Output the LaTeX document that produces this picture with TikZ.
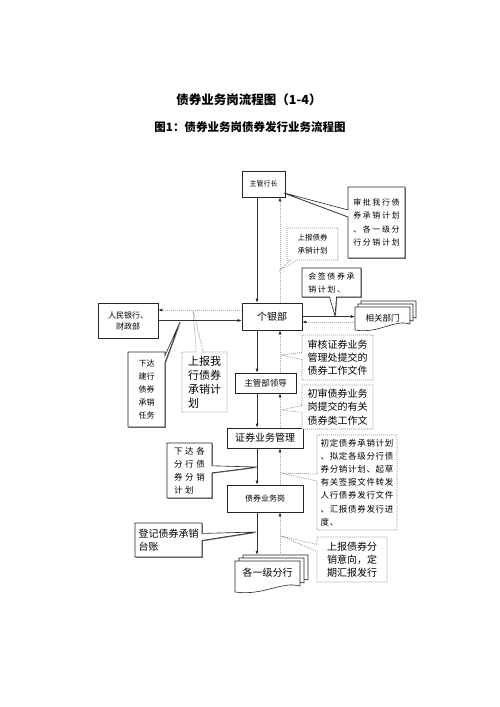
\documentclass[tikz,border=0pt]{standalone}
\usepackage{fontspec}
\setmainfont{Noto Sans CJK SC}
\newfontfamily\lsA{Noto Sans CJK SC}[LetterSpace=20]
\newfontfamily\lsB{Noto Sans CJK SC}[LetterSpace=30]
\newfontfamily\lsC{Noto Sans CJK SC}[LetterSpace=8]
\usetikzlibrary{arrows.meta,shapes.callouts,shadows}
\newcommand\fs[2]{\fontsize{#1}{#2}\selectfont}
\newcommand\onedoc[4]{%
  \path[draw=black!85,fill=white,line width=0.6pt] (#1,#2) -- (#3,#2) -- (#3,{#4-6})
    .. controls ({#3-(#3-#1)*0.3},{#4-11}) and ({#1+(#3-#1)*0.45},{#4+4}) .. (#1,#4) -- cycle;}
\begin{document}
\begin{tikzpicture}[x=1pt,y=-1pt,
  shd/.style={drop shadow={shadow xshift=0.8pt,shadow yshift=-0.8pt,fill=black!55,opacity=1}},
  boxn/.style={draw=black!85,fill=white,line width=0.6pt,inner sep=1pt,align=center,shd},
  co/.style={rectangle callout,fill=white,align=left,inner sep=2pt,callout pointer width=7pt},
  cosol/.style={co,draw=black!85,line width=0.6pt,shd},
  codot/.style={co,draw=black!45,line width=0.6pt,dash pattern=on 1pt off 1pt},
  sol/.style={draw=black!80,line width=0.7pt},
  dotl/.style={draw=black!35,line width=0.6pt,dash pattern=on 1pt off 1pt},
  tip/.style={-{Latex[length=4pt,width=3pt,color=black!85]}}
]
\useasboundingbox[fill=white] (0,0) rectangle (500,707);

% titles
\node[font=\fs{12.5}{14}\bfseries] (t1) at (249,100) {债券业务岗流程图（1-4）};
\node[font=\fs{11.5}{14}\bfseries] (t2) at (250,127) {图1：债券业务岗债券发行业务流程图};

\coordinate (colA) at (257,0);
\coordinate (colB) at (280,0);

% boxes
\node[boxn,font=\fs{7}{9},minimum width=43pt,minimum height=26pt] (zghz) at (263.5,184) {主管行长};
\node[boxn,font=\fs{10}{12},minimum width=60pt,minimum height=27pt] (gyb) at (272,316.5) {个银部};
\node[boxn,font=\fs{8}{11},minimum width=60pt,minimum height=35pt] (rmyh) at (128,320.5) {人民银行、\\财政部};
\node[boxn,font=\fs{8.5}{10},minimum width=61pt,minimum height=20pt] (zgbld) at (265.5,383) {主管部领导};
\node[boxn,font=\fs{10}{12},minimum width=76pt,minimum height=20pt] (zqgl) at (265,438) {证券业务管理};
\node[boxn,font=\fs{8}{10},minimum width=76pt,minimum height=27pt] (zqgw) at (265,498.5) {债券业务岗};

% multi documents
\onedoc{361}{301}{416}{324}
\onedoc{358}{304}{413}{327}
\onedoc{355}{307}{410}{330}
\node[inner sep=0pt,font=\fs{8.5}{10},minimum width=55pt,minimum height=23pt] (xgbm) at (382.5,318) {相关部门};

\onedoc{243}{555}{308}{586}
\onedoc{239}{558}{304}{589}
\onedoc{235}{561}{300}{592}
\node[inner sep=0pt,font=\fs{10}{12},minimum width=65pt,minimum height=24pt] (gyjfh) at (267.5,573) {各一级分行};
\coordinate (gtop) at ([yshift=6pt]gyjfh.north);

% callouts
\node[cosol,font={\fs{8}{13.5}\lsA},minimum width=57pt,minimum height=71pt,callout absolute pointer={(284,193)}] (sp) at (376.5,222.5)
  {审批我行债\\券承销计划\\、各一级分\\行分销计划};
\node[codot,font=\fs{7.5}{13},minimum width=51pt,minimum height=32pt,callout absolute pointer={(280,270)}] (sb1) at (312.5,244)
  {上报债券\\承销计划};
\node[cosol,font={\fs{8}{13}\lsA},minimum width=59pt,minimum height=29pt,callout absolute pointer={(335,316)}] (hq) at (331.5,282.5)
  {会签债券承\\销计划、};
\node[cosol,font=\fs{8}{13},minimum width=37pt,minimum height=75pt,callout absolute pointer={(180,322)}] (xd1) at (146.5,389.5)
  {下达\\建行\\债券\\承销\\任务};
\node[codot,font=\fs{11}{14},minimum width=45pt,minimum height=60pt,callout absolute pointer={(193,310)}] (sb2) at (204.5,382)
  {上报我\\行债券\\承销计\\划};
\node[codot,font=\fs{10}{13.3},minimum width=71pt,minimum height=45pt,callout absolute pointer={(281,355)}] (sh) at (337.5,357.5)
  {审核证券业务\\管理处提交的\\债券工作文件};
\node[codot,font=\fs{10}{13.3},minimum width=71pt,minimum height=44pt,callout absolute pointer={(281,410)}] (cs) at (337.5,407)
  {初审债券业务\\岗提交的有关\\债券类工作文};
\node[cosol,font={\fs{8.5}{13}\lsB},minimum width=45pt,minimum height=55pt,callout absolute pointer={(257,467)}] (xd2) at (189.5,470.5)
  {下达各\\分行债\\券分销\\计划};
\node[codot,font={\fs{8.5}{13.2}\lsC},minimum width=80pt,minimum height=95pt,inner sep=1.5pt,callout absolute pointer={(281,473)}] (cd) at (357,482.5)
  {初定债券承销计划\\、拟定各级分行债\\券分销计划、起草\\有关签报文件转发\\人行债券发行文件\\、汇报债券发行进\\度、};
\node[cosol,font=\fs{10}{13.3},minimum width=67pt,minimum height=34pt,callout absolute pointer={(256,532)}] (dj) at (168.5,540)
  {登记债券承销\\台账};
\node[codot,font=\fs{10}{13.3},minimum width=70pt,minimum height=45pt,callout absolute pointer={(281,536)}] (sb3) at (352,559.5)
  {上报债券分\\销意向，定\\期汇报发行};

% vertical connectors
\draw[sol,tip] (zghz.south -| colA) -- (gyb.north -| colA);
\draw[dotl,tip] (gyb.north -| colB) -- (zghz.south -| colB);
\draw[sol,tip] (gyb.south -| colA) -- (zgbld.north -| colA);
\draw[dotl,tip] (zgbld.north -| colB) -- (gyb.south -| colB);
\draw[sol,tip] (zgbld.south -| colA) -- (zqgl.north -| colA);
\draw[dotl,tip] (zqgl.north -| colB) -- (zgbld.south -| colB);
\draw[sol,tip] (zqgl.south -| colA) -- (zqgw.north -| colA);
\draw[dotl,tip] (zqgw.north -| colB) -- (zqgl.south -| colB);
\draw[sol,tip] (zqgw.south -| colA) -- (gtop -| colA);
\draw[dotl,tip] (gtop -| colB) -- (zqgw.south -| colB);

% horizontal connectors
\coordinate (gw1) at ([yshift=6.5pt]gyb.west);
\draw[dotl,tip] (gw1) -- (gw1 -| rmyh.east);
\draw[sol,tip] (rmyh.east) -- (rmyh.east -| gyb.west);
\draw[sol,tip] (gyb.east) -- (gyb.east -| xgbm.west);
\coordinate (ge1) at ([yshift=-5.5pt]gyb.east);
\draw[dotl,tip] (ge1 -| xgbm.west) -- (ge1);
\end{tikzpicture}
\end{document}
